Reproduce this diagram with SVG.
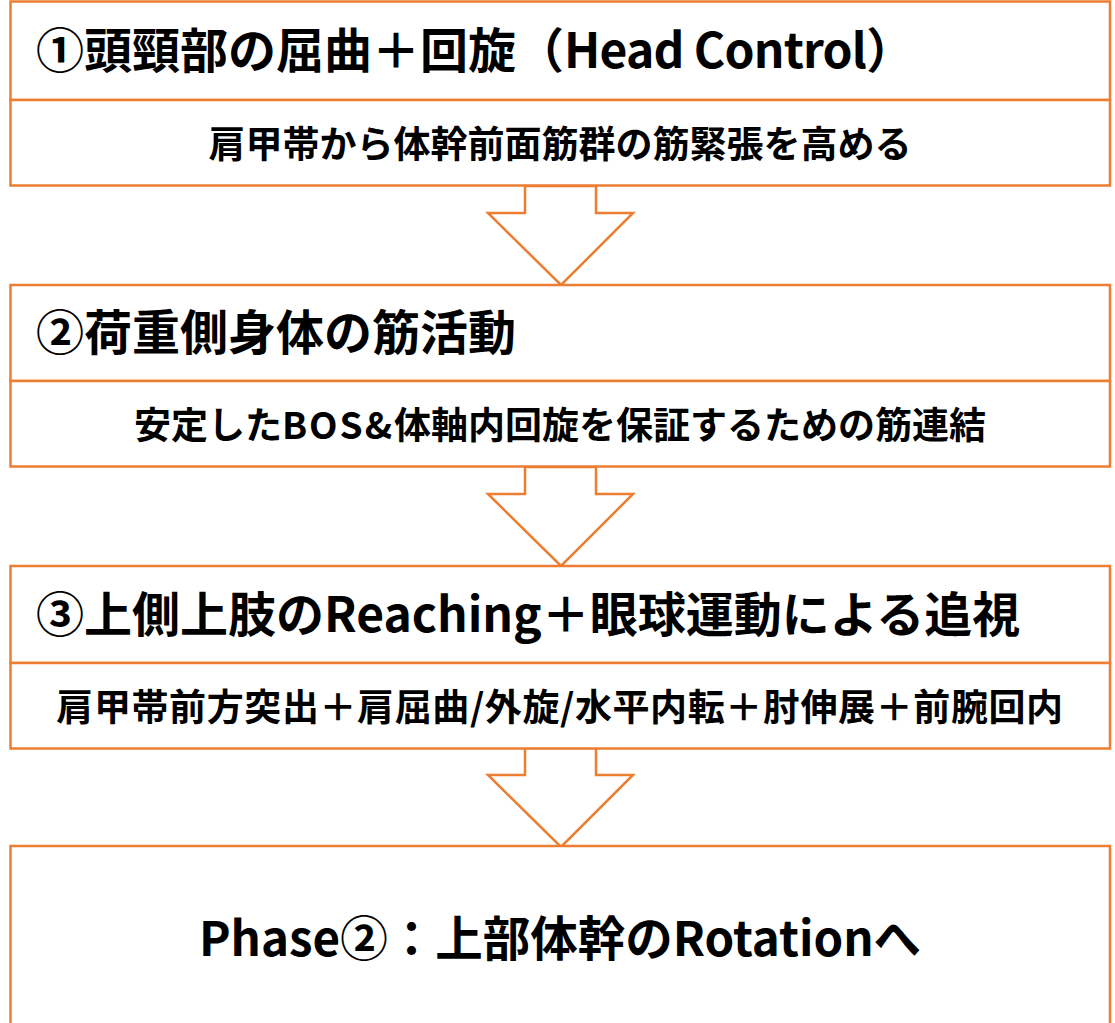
<svg xmlns="http://www.w3.org/2000/svg" width="1115" height="1023" viewBox="0 0 1115 1023">
<style>
.box{fill:#ffffff;stroke:#ED7D31;stroke-width:2.5}
.arr{fill:#ffffff;stroke:#ED7D31;stroke-width:2.5;stroke-linejoin:miter}
.t{font-family:"Noto Sans CJK JP","Noto Sans",sans-serif;font-weight:bold;fill:#000000;dominant-baseline:central}
.title{font-size:48px}
.sub{font-size:37px;text-anchor:middle}
.big{font-size:47.5px;text-anchor:middle}
</style>
<rect width="1115" height="1023" fill="#ffffff"/>
<g id="connectors">
<polygon class="arr" points="525,186 596,186 596,213 633,213 561,285 488,213 525,213"/>
<polygon class="arr" points="525,467 596,467 596,494 633,494 561,566 488,494 525,494"/>
<polygon class="arr" points="525,748 596,748 596,775 633,775 561,847 488,775 525,775"/>
</g>
<g id="node1">
<rect class="box" x="10.5" y="1.5" width="1099.5" height="98.5"/>
<rect class="box" x="10.5" y="100" width="1099.5" height="85.5"/>
<text class="t title" x="36" y="47">①頭頸部の屈曲＋回旋（<tspan letter-spacing="-0.8">Head Control</tspan>）</text>
<text class="t sub" x="560" y="142">肩甲帯から体幹前面筋群の筋緊張を高める</text>
</g>
<g id="node2">
<rect class="box" x="10.5" y="285" width="1099.5" height="96"/>
<rect class="box" x="10.5" y="381" width="1099.5" height="85.5"/>
<text class="t title" x="36" y="329">②荷重側身体の筋活動</text>
<text class="t sub" x="560" y="423">安定した<tspan letter-spacing="2">BOS&amp;</tspan>体軸内回旋を保証するための筋連結</text>
</g>
<g id="node3">
<rect class="box" x="10.5" y="566" width="1099.5" height="97"/>
<rect class="box" x="10.5" y="663" width="1099.5" height="85.5"/>
<text class="t title" x="36" y="611">③上側上肢のReaching＋眼球運動による追視</text>
<text class="t sub" x="560" y="705" letter-spacing="0.6">肩甲帯前方突出＋肩屈曲/外旋/水平内転＋肘伸展＋前腕回内</text>
</g>
<g id="node4">
<rect class="box" x="10.5" y="846" width="1099.5" height="190"/>
<text class="t big" x="560" y="935">Phase②：上部体幹のRotationへ</text>
</g>
</svg>
